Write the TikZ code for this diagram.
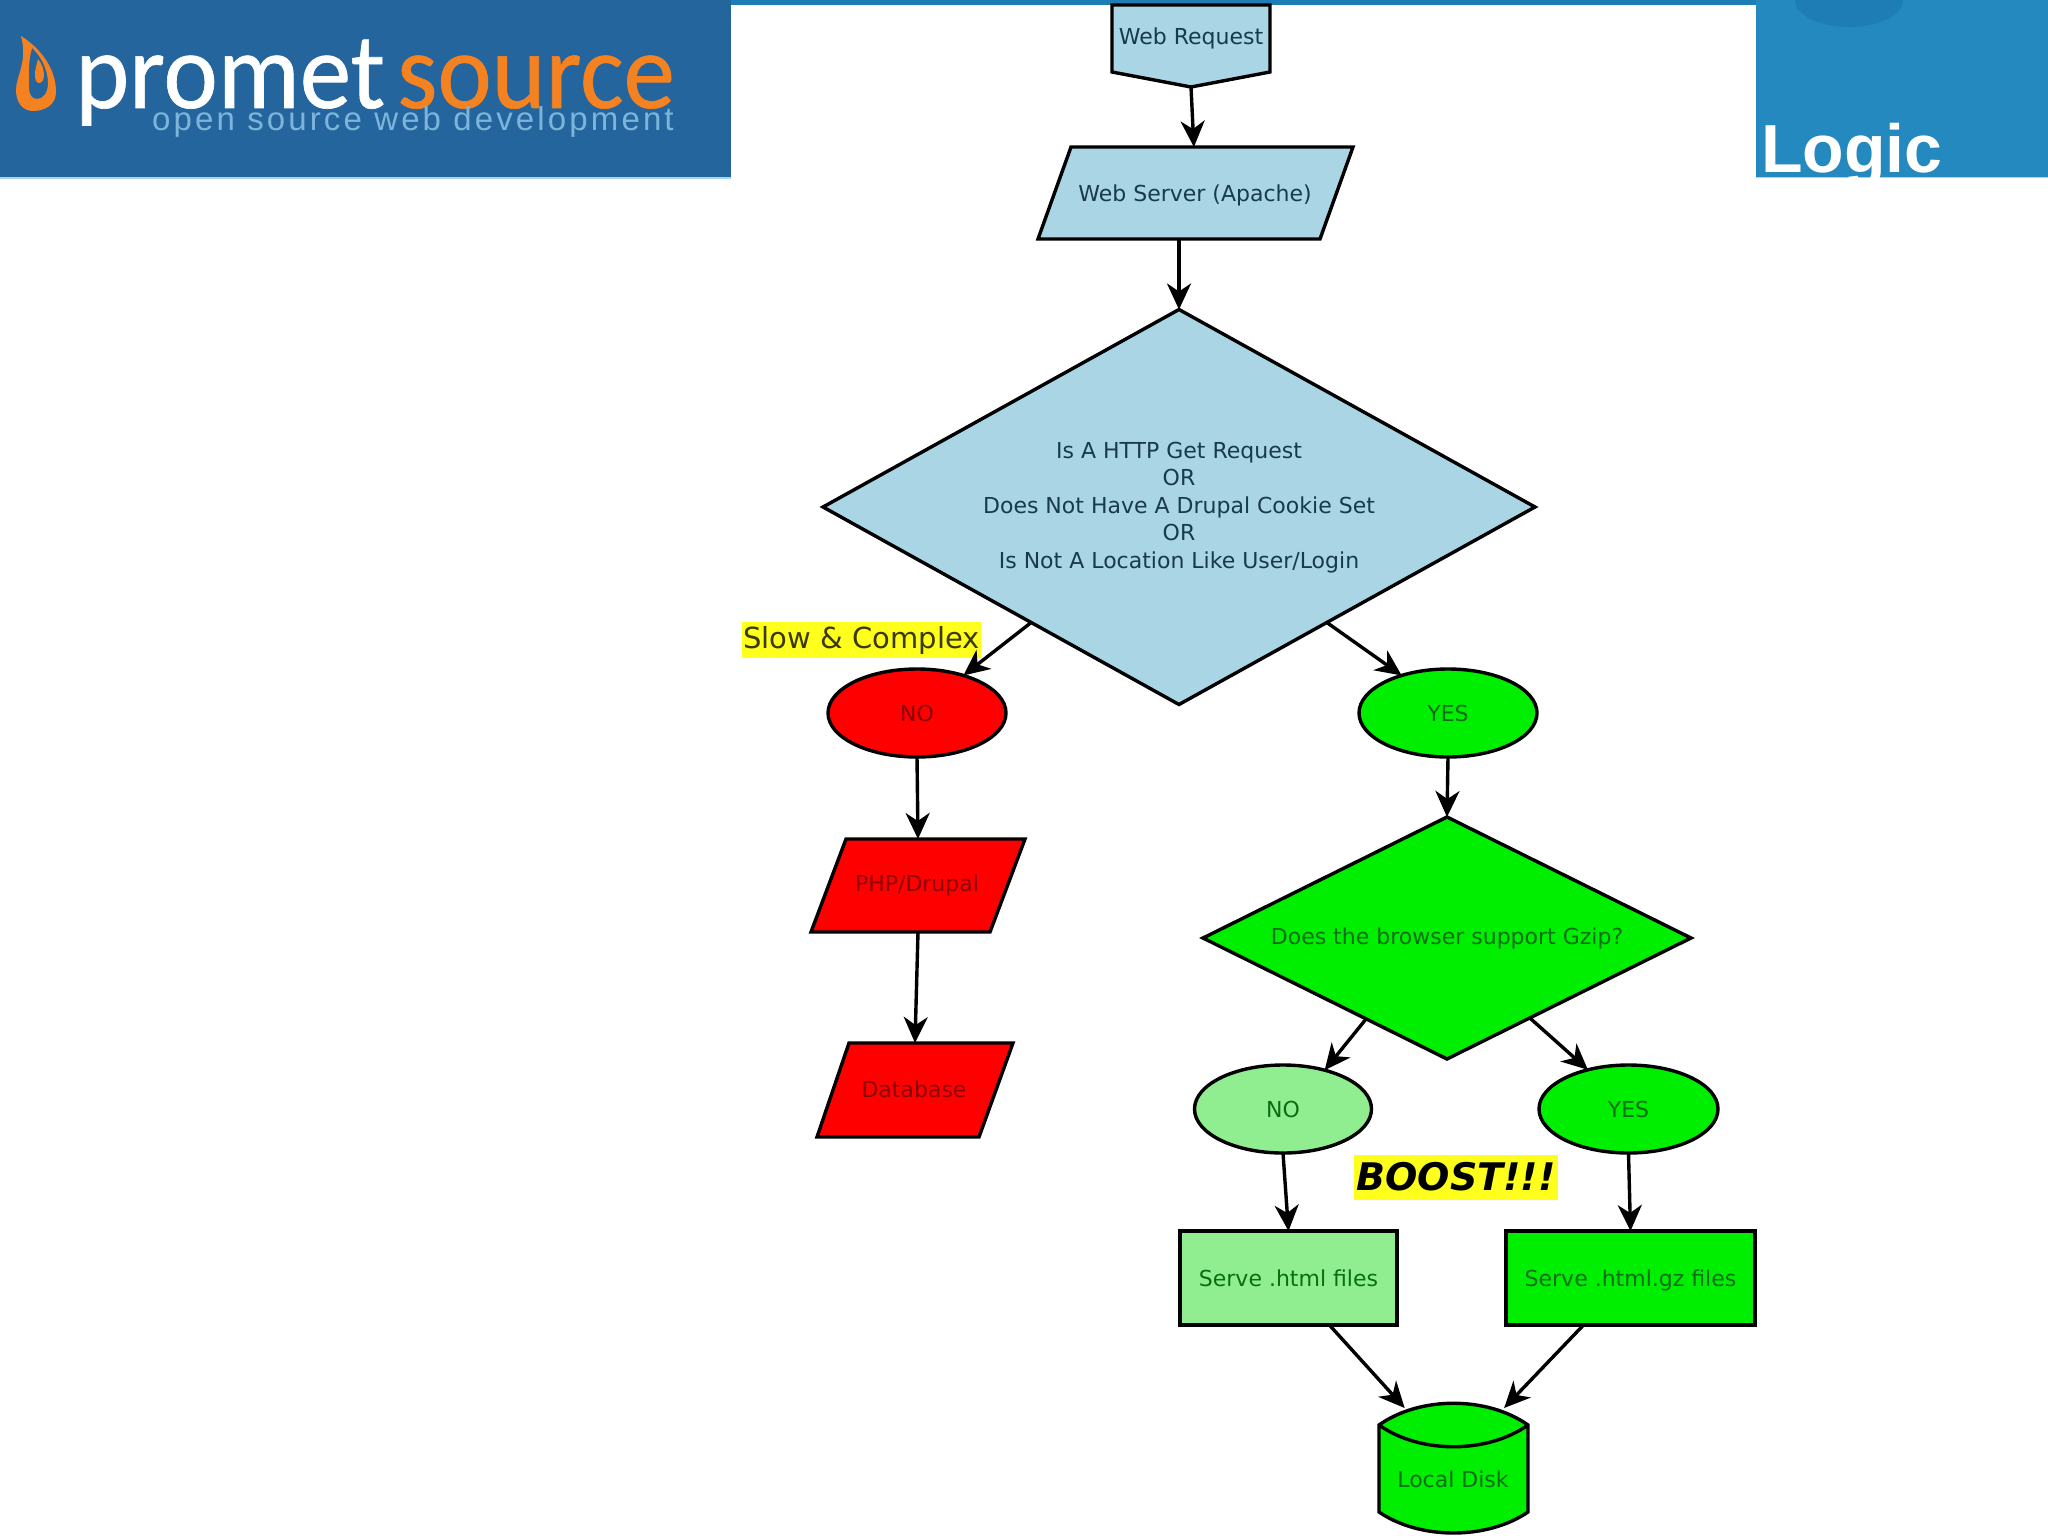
\documentclass[tikz,border=0pt]{standalone}
\usepackage{fontspec}
\usepackage{graphicx}
\usetikzlibrary{shapes.geometric,arrows.meta,calc}
\setmainfont{DejaVu Sans}
\newfontfamily\logofont[FakeBold=0.6]{Carlito}
\newfontfamily\tagfont[LetterSpace=9.5]{Liberation Sans}
\newfontfamily\titlefont{Liberation Sans}
\definecolor{bannerL}{HTML}{25659E}
\definecolor{bannerR}{HTML}{2389BE}
\definecolor{bannerC}{HTML}{1F7DB5}
\definecolor{edgeL}{HTML}{A8D4F0}
\definecolor{orangeL}{HTML}{F58220}
\definecolor{tagc}{HTML}{7DB4DA}
\definecolor{lblue}{HTML}{A9D5E5}
\definecolor{lgreen}{HTML}{90EE90}
\definecolor{fgreen}{HTML}{00EE00}
\definecolor{pred}{HTML}{FF0000}
\definecolor{hiyellow}{HTML}{FFFF1E}
\definecolor{tblue}{HTML}{173A4C}
\definecolor{tred}{HTML}{8C0000}
\definecolor{tgreen}{HTML}{0A6E14}
\definecolor{tolive}{HTML}{3A3A00}
\tikzset{
  shapeline/.style={draw=black,line width=3.4pt,line join=miter},
  base/.style={inner sep=0pt,outer sep=0pt,font=\fontsize{22}{27.4}\selectfont,align=center},
  bluebox/.style={base,text=tblue},
  redbox/.style={base,text=tred},
  greenbox/.style={base,text=tgreen},
  conn/.style={draw=black,line width=3.4pt,-{Stealth[length=26pt,width=24pt,inset=8pt]}},
  highlight/.style={inner sep=0pt,outer sep=0pt,fill=hiyellow}
}
\begin{document}
\begin{tikzpicture}[x=1pt,y=-1pt]
\useasboundingbox (0,0) rectangle (2048,1536);
\fill[white] (0,0) rectangle (2048,1536);
% banners
\fill[bannerC] (0,0) rectangle (2048,5);
\fill[edgeL] (0,177) rectangle (731,179);
\fill[edgeL] (1756,177) rectangle (2048,178);
\fill[bannerL] (0,0) rectangle (731,177);
\fill[bannerR] (1756,0) rectangle (2048,177);
\fill[bannerC] (1849,0) ellipse (54 and 27);
\fill[orangeL,even odd rule]
  (21,36) .. controls (40,48) and (56,68) .. (56,92)
  .. controls (56,104) and (46,111) .. (33,111)
  .. controls (23,111) and (16,103) .. (16,90)
  .. controls (16,76) and (28,62) .. (21,36) -- cycle
  (32,48) .. controls (28,62) and (29,74) .. (29,87)
  .. controls (29,95) and (32,99) .. (37,99)
  .. controls (44,99) and (48,92) .. (48,83)
  .. controls (48,70) and (41,56) .. (32,48) -- cycle;
\fill[orangeL] (38,59) .. controls (42,64) and (44,70) .. (44,75)
  .. controls (44,80) and (42,83) .. (39,83)
  .. controls (36,83) and (35,79) .. (35,74)
  .. controls (35,69) and (37,64) .. (38,59) -- cycle;
\node[anchor=base west,inner sep=0pt,text=white] (promet) at (75,108)
  {\scalebox{.98}[1.03]{\logofont\fontsize{105}{105}\selectfont promet}};
\node[anchor=base west,inner sep=0pt,text=orangeL] (sourcew) at (397,108)
  {\scalebox{.98}[1.03]{\logofont\fontsize{105}{105}\selectfont source}};
\node[anchor=base west,inner sep=0pt,text=tagc] (tagline) at (152,131)
  {\tagfont\fontsize{33}{33}\selectfont open source web development};
\begin{scope}
\clip (1756,0) rectangle (2048,177);
\node[anchor=base west,inner sep=0pt,text=white] (logic) at (1761,172)
  {\titlefont\bfseries\fontsize{68}{68}\selectfont Logic};
\end{scope}

% diamonds and ellipses
\node[bluebox,shape=diamond,shapeline,fill=lblue,minimum width=712pt,minimum height=395pt,aspect=1.8] (big) at (1179,507) {};
\node[bluebox] (bigt) at (1179,507.5)
  {Is A HTTP Get Request\\OR\\Does Not Have A Drupal Cookie Set\\OR\\Is Not A Location Like User/Login};
\node[redbox,shape=ellipse,shapeline,fill=pred,minimum width=178pt,minimum height=88pt] (no1) at (917,713) {NO};
\node[greenbox,shape=ellipse,shapeline,fill=fgreen,minimum width=178pt,minimum height=88pt] (yes1) at (1448,713) {YES};
\node[greenbox,shape=diamond,shapeline,fill=fgreen,minimum width=488pt,minimum height=242pt,aspect=2] (gd) at (1447,938)
  {Does the browser support Gzip?};
\node[greenbox,shape=ellipse,shapeline,fill=lgreen,minimum width=177pt,minimum height=88pt] (no2) at (1283,1109) {NO};
\node[greenbox,shape=ellipse,shapeline,fill=fgreen,minimum width=179pt,minimum height=88pt] (yes2) at (1628.5,1109) {YES};
\node[greenbox,shape=rectangle,shapeline,fill=lgreen,minimum width=217pt,minimum height=94pt] (r1) at (1288.5,1278) {Serve .html files};
\node[greenbox,shape=rectangle,shapeline,fill=fgreen,minimum width=249pt,minimum height=94pt,text depth=0pt] (r2) at (1630.5,1278) {Serve .html.gz files};

% hand-shaped boxes: invisible rectangle nodes carry the anchors
\node[bluebox,minimum width=158pt,minimum height=82pt] (wr) at (1191,46) {};
\draw[shapeline,fill=lblue] (wr.north west) -- (wr.north east) -- ([yshift=15pt]wr.south east)
   -- (wr.south) -- ([yshift=15pt]wr.south west) -- cycle;
\node[bluebox] (wrt) at (1191,38.5) {Web Request};

\node[bluebox,minimum width=315pt,minimum height=92pt] (ws) at (1195.5,193) {};
\draw[shapeline,fill=lblue] ([xshift=33pt]ws.north west) -- (ws.north east)
   -- ([xshift=-33pt]ws.south east) -- (ws.south west) -- cycle;
\node[bluebox] (wst) at (1195,195) {Web Server (Apache)};

\node[redbox,minimum width=214pt,minimum height=93pt] (php) at (918,885.5) {};
\draw[shapeline,fill=pred] ([xshift=35pt]php.north west) -- (php.north east)
   -- ([xshift=-35pt]php.south east) -- (php.south west) -- cycle;
\node[redbox] (phpt) at (917,885) {PHP/Drupal};

\node[redbox,minimum width=196pt,minimum height=94pt] (db) at (915,1090) {};
\draw[shapeline,fill=pred] ([xshift=32pt]db.north west) -- (db.north east)
   -- ([xshift=-34pt]db.south east) -- (db.south west) -- cycle;
\node[redbox] (dbt) at (914,1089) {Database};

\node[greenbox,minimum width=149pt,minimum height=125pt] (disk) at (1453.5,1470.5) {};
\draw[shapeline,fill=fgreen] (1379,1425) .. controls (1420,1396) and (1487,1396) .. (1528,1425)
   -- (1528,1512) .. controls (1487,1540) and (1420,1540) .. (1379,1512) -- cycle;
\draw[shapeline] (1379,1425) .. controls (1420,1454) and (1487,1454) .. (1528,1425);
\node[greenbox] (diskt) at (1453,1479) {Local Disk};

% highlighted captions
\node[highlight,minimum width=239pt,minimum height=36pt,text=tolive,font=\fontsize{29}{29}\selectfont] (slow) at (861.5,640) {\raisebox{-2pt}{Slow \& Complex}};
\node[highlight,minimum width=204pt,minimum height=45pt,font=\bfseries\itshape\fontsize{38}{38}\selectfont] (boost) at (1456,1177) {BOOST!!!};

% connectors
\draw[conn] (wr.south) -- (ws.92.5);
\draw[conn] (big.north |- ws.south) -- (big.north);
\draw[conn] (big.218) -- (no1.39);
\draw[conn] (big.322) -- (yes1.141);
\draw[conn] (no1.south) -- (php.north);
\draw[conn] (php.south) -- (db.north);
\draw[conn] (yes1.south) -- (gd.north);
\draw[conn] (gd.225.7) -- (no2.43.7);
\draw[conn] (gd.316) -- (yes2.136);
\draw[conn] (no2.south) -- (r1.north);
\draw[conn] (yes2.south) -- (r2.north);
\draw[conn] (r1.311.4) -- (disk.128.7);
\draw[conn] (r2.225.9) -- (disk.51.3);
\end{tikzpicture}
\end{document}
